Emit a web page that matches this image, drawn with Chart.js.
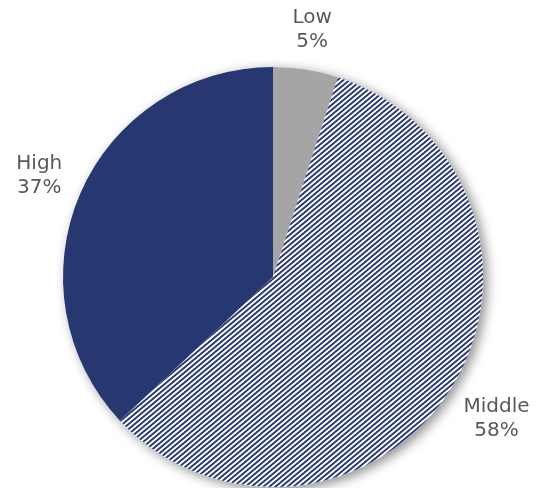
<!DOCTYPE html>
<html>
<head>
<meta charset="utf-8">
<script src="https://cdn.jsdelivr.net/npm/chart.js@4/dist/chart.umd.min.js"></script>
<style>
  html, body { margin: 0; padding: 0; background: #fff; }
  #wrap { width: 537px; height: 488px; position: relative; }
</style>
</head>
<body>
<div id="wrap"><canvas id="chart"></canvas></div>
<script>
const categories = ['Low', 'Middle', 'High'];
const shares = [5, 58, 37];
const percentLabels = ['5%', '58%', '37%'];

const NAVY = [0x27, 0x37, 0x6f];
const GREY = '#a5a5a5';

// diagonal navy/white stripes (slightly antialiased) for the "Middle" slice
function makeStripes() {
  const w = 6, h = 5, ss = 4;
  const c = document.createElement('canvas');
  c.width = w; c.height = h;
  const g = c.getContext('2d');
  const img = g.createImageData(w, h);
  for (let y = 0; y < h; y++) {
    for (let x = 0; x < w; x++) {
      let cov = 0;
      for (let sy = 0; sy < ss; sy++) {
        for (let sx = 0; sx < ss; sx++) {
          const px = x + (sx + 0.5) / ss, py = y + (sy + 0.5) / ss;
          const t = (((h * px + w * py) % 30) + 30) % 30;
          if (t < 15) cov++;
        }
      }
      cov /= ss * ss;
      const p = (y * w + x) * 4;
      for (let k = 0; k < 3; k++) img.data[p + k] = Math.round(255 + (NAVY[k] - 255) * cov);
      img.data[p + 3] = 255;
    }
  }
  g.putImageData(img, 0, 0);
  return g.createPattern(c, 'repeat');
}

// soft shadow behind the whole pie
const pieShadow = {
  id: 'pieShadow',
  beforeDatasetsDraw(chart) {
    const arc = chart.getDatasetMeta(0).data[0];
    if (!arc) return;
    const ctx = chart.ctx;
    ctx.save();
    ctx.shadowColor = 'rgba(0,0,0,0.45)';
    ctx.shadowBlur = 12;
    ctx.shadowOffsetX = 4;
    ctx.shadowOffsetY = 3;
    ctx.fillStyle = '#fff';
    ctx.beginPath();
    ctx.arc(arc.x, arc.y, arc.outerRadius, 0, Math.PI * 2);
    ctx.fill();
    ctx.restore();
  }
};

// two-line labels outside each slice
const outsideLabels = {
  id: 'outsideLabels',
  afterDatasetsDraw(chart) {
    const ctx = chart.ctx;
    const meta = chart.getDatasetMeta(0);
    ctx.save();
    ctx.font = '20px "DejaVu Sans", Verdana, sans-serif';
    ctx.fillStyle = '#595959';
    ctx.textAlign = 'center';
    ctx.textBaseline = 'middle';
    const lineH = 24;
    meta.data.forEach((arc, i) => {
      const mid = (arc.startAngle + arc.endAngle) / 2;
      const ux = Math.cos(mid), uy = Math.sin(mid);
      const lines = [categories[i], percentLabels[i]];
      const bw = Math.max(...lines.map(t => ctx.measureText(t).width));
      const bh = lineH * lines.length;
      const ext = Math.abs(ux) * bw / 2 + Math.abs(uy) * bh / 2;
      const d = arc.outerRadius + 14 + ext;
      const cx = arc.x + ux * d, cy = arc.y + uy * d;
      lines.forEach((t, j) => {
        ctx.fillText(t, cx, cy + (j - (lines.length - 1) / 2) * lineH);
      });
    });
    ctx.restore();
  }
};

new Chart(document.getElementById('chart'), {
  type: 'pie',
  data: {
    labels: categories,
    datasets: [{
      data: shares,
      backgroundColor: [GREY, makeStripes(), 'rgb(' + NAVY.join(',') + ')'],
      borderWidth: 0
    }]
  },
  options: {
    responsive: true,
    maintainAspectRatio: false,
    animation: false,
    layout: { padding: { top: 67, bottom: 1, left: 63, right: 54 } },
    plugins: {
      legend: { display: false },
      tooltip: { enabled: false }
    }
  },
  plugins: [pieShadow, outsideLabels]
});
</script>
</body>
</html>
